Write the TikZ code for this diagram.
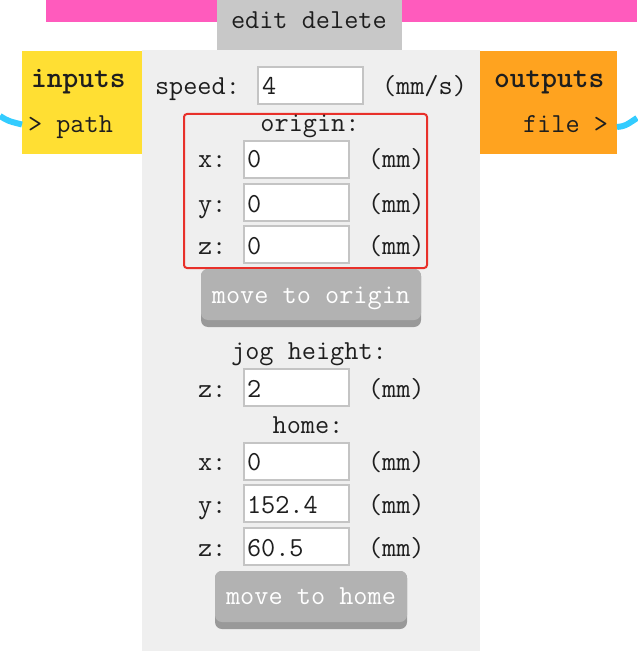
\documentclass[tikz,border=0pt]{standalone}
\usepackage{fontspec}
\definecolor{pinkc}{HTML}{FF5BBD}
\definecolor{editc}{HTML}{C8C8C8}
\definecolor{panelc}{HTML}{EFEFEF}
\definecolor{yellowc}{HTML}{FFDF33}
\definecolor{orangec}{HTML}{FFA31F}
\definecolor{bluec}{HTML}{33CCFF}
\definecolor{redc}{HTML}{E8302A}
\definecolor{fieldc}{HTML}{C4C4C4}
\definecolor{btnc}{HTML}{B2B2B2}
\definecolor{btndark}{HTML}{999999}
\definecolor{txtc}{HTML}{1E1E1E}
\begin{document}
\begin{tikzpicture}[x=1pt,y=-1pt,
  rect/.style={inner sep=0pt, outer sep=0pt, anchor=north west, draw=none},
  txt/.style={inner sep=0pt, outer sep=0pt, anchor=base west, text=txtc, font=\fontsize{27.5}{30}\selectfont\ttfamily},
  ctxt/.style={txt, anchor=base},
  btxt/.style={txt, font=\fontsize{30}{32}\selectfont\ttfamily\bfseries},
  wtxt/.style={txt, anchor=base, text=white},
  field/.style={rect, draw=fieldc, line width=2pt, fill=white, minimum width=105pt, minimum height=37pt},
  btnbase/.style={rect, fill=btndark, rounded corners=7pt},
  btntop/.style={rect, fill=btnc, rounded corners=7pt},
  wire/.style={bluec, line width=6pt}
]
\useasboundingbox (0,0) rectangle (637,660);
% top bar
\node[rect, fill=pinkc, minimum width=591pt, minimum height=22pt] (bar) at (46,0) {};
\node[rect, fill=editc, minimum width=185pt, minimum height=50pt] (edit) at (217,0) {};
\node[txt] (edittxt) at (231,29) {edit delete};
% panel
\node[rect, fill=panelc, minimum width=338pt, minimum height=601pt] (panel) at (142,50) {};
% inputs / outputs
\node[rect, fill=yellowc, minimum width=120pt, minimum height=103pt] (inputs) at (22,51) {};
\node[btxt] (inlabel) at (31,88) {inputs};
\node[txt] (inport) at (28,133) {> path};
\node[rect, fill=orangec, minimum width=137pt, minimum height=103pt] (outputs) at (480,51) {};
\node[btxt] (outlabel) at (494,88) {outputs};
\node[txt, anchor=base east] (outport) at (608,133) {file >};
% wires
\coordinate (lend) at (0,116);
\coordinate (rend) at (637,118);
\draw[wire] (lend) .. controls (8,121) .. (inputs.west |- 0,124.5);
\draw[wire] (outputs.east |- 0,127) .. controls (625,126) .. (rend);
% speed
\node[txt] (speedl) at (155,95) {speed:};
\node[field] (speedf) at (258,67) {};
\node[txt] (speedv) at (262,95) {4};
\node[txt] (speedu) at (382,95) {(mm/s)};
% origin box
\node[rect, draw=redc, line width=2pt, rounded corners=3pt, minimum width=243pt, minimum height=154pt] (originbox) at (184,114) {};
\node[ctxt] (originl) at (310,132) {origin:};
\node[txt] (oxl) at (198,168) {x:};
\node[field] (oxf) at (244,141) {};
\node[txt] (oxv) at (247,168) {0};
\node[txt] (oxu) at (368,168) {(mm)};
\node[txt] (oyl) at (198,212) {y:};
\node[field] (oyf) at (244,184) {};
\node[txt] (oyv) at (247,212) {0};
\node[txt] (oyu) at (368,212) {(mm)};
\node[txt] (ozl) at (198,254) {z:};
\node[field] (ozf) at (244,226) {};
\node[txt] (ozv) at (247,254) {0};
\node[txt] (ozu) at (368,254) {(mm)};
% move to origin
\node[btnbase, minimum width=220pt, minimum height=58pt] (mob) at (201,269) {};
\node[btntop, minimum width=220pt, minimum height=51pt] (mot) at (201,269) {};
\node[wtxt] (motxt) at (311,303) {move to origin};
% jog height
\node[ctxt] (jogl) at (309,359) {jog height:};
\node[txt] (jzl) at (198,397) {z:};
\node[field] (jzf) at (244,369) {};
\node[txt] (jzv) at (247,397) {2};
\node[txt] (jzu) at (368,397) {(mm)};
% home
\node[ctxt] (homel) at (308,433) {home:};
\node[txt] (hxl) at (198,470) {x:};
\node[field] (hxf) at (244,443) {};
\node[txt] (hxv) at (247,470) {0};
\node[txt] (hxu) at (368,470) {(mm)};
\node[txt] (hyl) at (198,513) {y:};
\node[field] (hyf) at (244,485) {};
\node[txt] (hyv) at (247,513) {152.4};
\node[txt] (hyu) at (368,513) {(mm)};
\node[txt] (hzl) at (198,556) {z:};
\node[field] (hzf) at (244,528) {};
\node[txt] (hzv) at (247,556) {60.5};
\node[txt] (hzu) at (368,556) {(mm)};
% move to home
\node[btnbase, minimum width=192pt, minimum height=58pt] (mhb) at (215,571) {};
\node[btntop, minimum width=192pt, minimum height=51pt] (mht) at (215,571) {};
\node[wtxt] (mhtxt) at (311,604) {move to home};
\end{tikzpicture}
\end{document}
